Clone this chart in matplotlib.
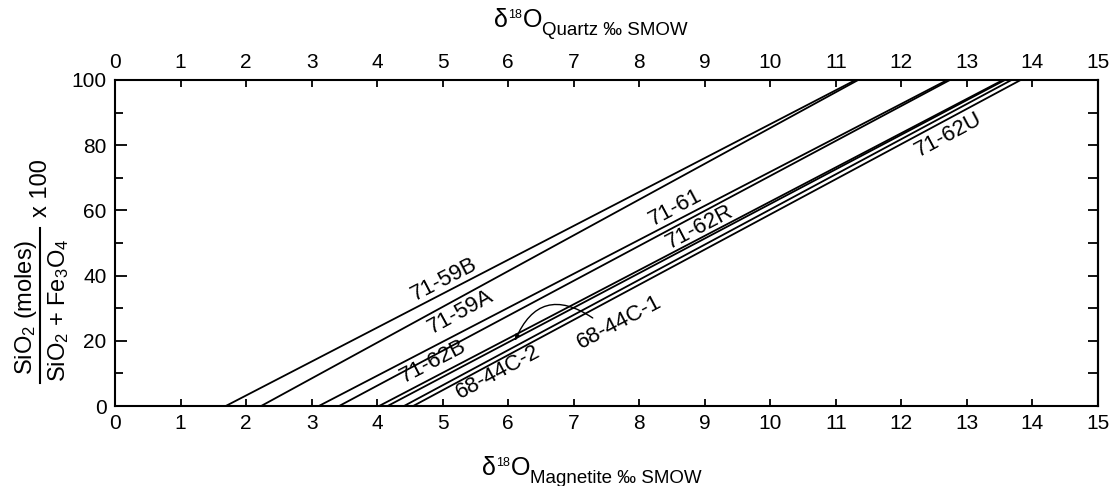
import numpy as np
import matplotlib
matplotlib.use("Agg")
import matplotlib.pyplot as plt
from matplotlib.ticker import MultipleLocator
from matplotlib.lines import Line2D

plt.rcParams["font.family"] = ["Liberation Sans", "DejaVu Sans"]
plt.rcParams["mathtext.fontset"] = "custom"
plt.rcParams["mathtext.rm"] = "Liberation Sans"
plt.rcParams["mathtext.it"] = "Liberation Sans:italic"
plt.rcParams["mathtext.default"] = "regular"

# Samples and the delta-18O values where each mixing line meets 0 % and 100 % SiO2
samples = ["71-59B", "71-59A", "71-62B", "71-61",
           "71-62R", "68-44C-1", "68-44C-2", "71-62U"]
d18o_at_0 = [1.69, 2.23, 3.11, 3.42, 4.03, 4.16, 4.41, 4.55]
d18o_at_100 = [11.30, 11.34, 12.70, 12.74, 13.55, 13.58, 13.68, 13.82]
silica_pct = [0, 100]

x_ticks = list(range(0, 16))
y_ticks = [0, 20, 40, 60, 80, 100]

# where each sample name is written (data coordinates)
label_pos = {
    "71-59B": (5.02, 38.7),
    "71-59A": (5.27, 28.8),
    "71-62B": (4.85, 13.5),
    "68-44C-2": (5.85, 10.2),
    "68-44C-1": (7.70, 25.6),
    "71-61": (8.55, 60.7),
    "71-62R": (8.93, 55.0),
    "71-62U": (12.72, 83.1),
}

W, H = 1112, 486
fig = plt.figure(figsize=(W / 100, H / 100), dpi=100)
fig.patch.set_facecolor("white")

L, R, T, B = 115, 1098, 80, 406
ax = fig.add_axes([L / W, 1 - B / H, (R - L) / W, (B - T) / H])
ax.set_xlim(0, 15)
ax.set_ylim(0, 100)

for s, x0, x1 in zip(samples, d18o_at_0, d18o_at_100):
    ax.plot([x0, x1], silica_pct, color="black", lw=1.3, solid_capstyle="butt")

for sp in ax.spines.values():
    sp.set_linewidth(1.5)

ax.set_xticks(x_ticks)
ax.set_yticks(y_ticks)
ax.yaxis.set_minor_locator(MultipleLocator(10))
ax.tick_params(axis="x", which="both", direction="in", length=5, width=1.3,
               top=True, labeltop=True, labelsize=15, pad=6)
ax.tick_params(axis="y", which="major", direction="in", length=8.5, width=1.3,
               labelsize=15, pad=6)
ax.tick_params(axis="y", which="minor", direction="in", length=5.5, width=1.3)

# right-hand ticks every 10 %
sec = ax.secondary_yaxis("right")
sec.set_yticks(list(range(0, 101, 10)))
sec.tick_params(direction="in", length=7, width=1.3, labelright=False)
sec.spines["right"].set_linewidth(1.5)

# sample names along their lines
for s, x0, x1 in zip(samples, d18o_at_0, d18o_at_100):
    p0 = ax.transData.transform((x0, 0))
    p1 = ax.transData.transform((x1, 100))
    ang = np.degrees(np.arctan2(p1[1] - p0[1], p1[0] - p0[0]))
    lx, ly = label_pos[s]
    ax.text(lx, ly, s, fontsize=16, rotation=ang, rotation_mode="anchor",
            ha="center", va="center")

# curved leader for 68-44C-1
ax.annotate("", xy=(6.10, 19.9), xytext=(7.29, 27.0),
            arrowprops=dict(arrowstyle="-|>,head_length=0.35,head_width=0.12",
                            connectionstyle="arc3,rad=0.6", color="black",
                            lw=1.0, shrinkA=0, shrinkB=0))


def fx(x):
    return x / W


def fy(y):
    return 1 - y / H


def axis_title(x_d, x_sup, x_o, x_sub, base, sub_text):
    fig.text(fx(x_d), fy(base), "\u03b4", fontsize=18, ha="left", va="baseline")
    fig.text(fx(x_sup), fy(base - 9), "18", fontsize=9, ha="left", va="baseline")
    fig.text(fx(x_o), fy(base), "O", fontsize=18, ha="left", va="baseline")
    fig.text(fx(x_sub), fy(base + 8), sub_text, fontsize=13.5, ha="left", va="baseline")


axis_title(482, 496, 511, 530, 475, "Magnetite \u2030 SMOW")
axis_title(494, 508, 523, 542, 27, "Quartz \u2030 SMOW")

# y-axis title as a stacked fraction
fig.text(fx(32), fy(307), r"SiO$_2$ (moles)", fontsize=17, rotation=90,
         rotation_mode="anchor", ha="center", va="baseline")
fig.text(fx(65), fy(310), r"SiO$_2$ + Fe$_3$O$_4$", fontsize=17, rotation=90,
         rotation_mode="anchor", ha="center", va="baseline")
fig.add_artist(Line2D([fx(39.5), fx(39.5)], [fy(228), fy(383)],
                      color="black", lw=1.5, transform=fig.transFigure))
fig.text(fx(47), fy(188.5), "x 100", fontsize=17, rotation=90,
         rotation_mode="anchor", ha="center", va="baseline")

fig.savefig("out.png", dpi=100, facecolor="white")
